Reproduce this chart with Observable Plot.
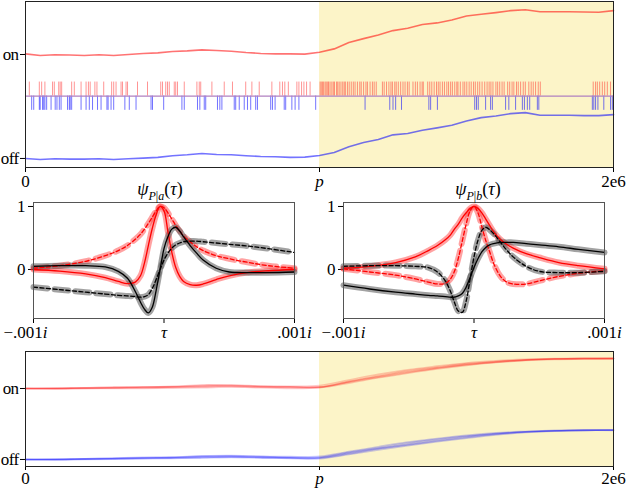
<!DOCTYPE html>
<html><head><meta charset="utf-8">
<script src="https://cdn.jsdelivr.net/npm/d3@7"></script>
<script src="https://cdn.jsdelivr.net/npm/@observablehq/plot@0.6"></script>
<style>
body{margin:0;background:#fff;}
#root{position:relative;width:630px;height:490px;overflow:hidden;font-family:"Liberation Serif","DejaVu Serif",serif;}
#root svg{position:absolute;overflow:visible;}
#root svg text{font-family:"Liberation Serif","DejaVu Serif",serif !important;font-size:17px !important;}
.ttl{position:absolute;width:200px;text-align:center;font-size:18px;font-family:"Liberation Serif","DejaVu Serif",serif !important;line-height:20px;}
.ttl sub{font-size:12px;line-height:0;}
</style></head><body><div id="root"></div>
<script>
// ---------- data (time axis in units of 1e6) ----------
const timeTickValues = [0, 1, 2];
const timeTickLabels = ["0", "p", "2e6"];
const stateTickValues = [0, 1];
const stateTickLabels = ["off", "on"];
const shadeStart = 1, shadeEnd = 2;

const topX = [0,0.05,0.1,0.15,0.2,0.25,0.3,0.35,0.4,0.45,0.5,0.55,0.6,0.65,0.7,0.75,0.8,0.85,0.9,0.95,1,1.05,1.1,1.15,1.2,1.25,1.3,1.35,1.4,1.45,1.5,1.55,1.6,1.65,1.7,1.75,1.8,1.85,1.9,1.95,2];
const topRed = [1.006,0.990,0.997,0.995,0.990,0.997,0.990,1.000,1.010,1.016,1.029,1.035,1.045,1.038,1.032,1.019,1.010,1.006,1.006,1.004,1.022,1.054,1.115,1.153,1.188,1.230,1.252,1.288,1.304,1.332,1.371,1.387,1.403,1.422,1.431,1.412,1.412,1.412,1.409,1.406,1.422];
const topBlue = [0,-0.010,-0.003,-0.006,-0.006,-0.003,-0.010,-0.003,0.003,0.010,0.026,0.035,0.048,0.038,0.035,0.026,0.019,0.016,0.010,0.013,0.029,0.058,0.112,0.153,0.182,0.227,0.240,0.272,0.294,0.319,0.361,0.393,0.409,0.431,0.441,0.415,0.415,0.415,0.412,0.412,0.422];

const redSpikes = [0.013,0.047,0.055,0.066,0.092,0.098,0.113,0.118,0.123,0.157,0.166,0.189,0.206,0.214,0.220,0.236,0.243,0.266,0.293,0.300,0.308,0.325,0.330,0.342,0.347,0.381,0.415,0.460,0.466,0.477,0.483,0.489,0.506,0.511,0.517,0.540,0.583,0.591,0.596,0.634,0.676,0.704,0.749,0.770,0.795,0.838,0.865,0.874,0.882,0.894,0.923,0.930,0.939,0.947,0.956,0.968,
 1.002,1.006,1.010,1.014,1.019,1.023,1.028,1.031,1.036,1.042,1.047,1.051,1.058,1.062,1.067,1.073,1.079,1.084,1.088,1.095,1.101,1.108,1.115,1.121,1.129,1.137,1.142,1.150,1.158,1.163,1.172,1.180,1.186,1.193,1.214,1.220,1.228,1.236,1.243,1.248,1.256,1.261,1.268,1.276,1.284,1.291,1.299,1.305,1.318,1.326,1.333,1.342,1.349,1.353,1.368,1.375,1.382,1.390,1.398,1.404,1.410,1.418,1.425,1.433,1.439,1.446,1.452,1.460,1.467,1.471,1.479,1.488,1.494,1.501,1.509,1.516,1.524,1.530,1.538,1.545,1.553,1.562,1.570,1.577,1.583,1.590,1.600,1.606,1.613,1.621,1.628,1.640,1.647,1.655,1.661,1.670,1.676,1.684,1.693,1.700,1.712,1.720,1.727,1.735,1.744,1.751,
 1.931,1.939,1.945,1.953,1.962,1.970,1.979,1.990];
const blueSpikes = [0.021,0.028,0.047,0.050,0.058,0.062,0.066,0.072,0.087,0.101,0.107,0.115,0.121,0.143,0.149,0.152,0.157,0.189,0.206,0.217,0.228,0.245,0.257,0.277,0.281,0.291,0.300,0.338,0.353,0.376,0.427,0.432,0.470,0.532,0.540,0.585,0.593,0.608,0.613,0.653,0.661,0.668,0.710,0.715,0.727,0.744,0.755,0.766,0.783,0.789,0.834,0.840,0.849,0.880,0.885,0.906,0.917,0.930,0.987,
 1.155,1.239,1.250,1.259,1.279,1.372,1.378,1.401,1.528,1.534,1.540,1.565,1.582,1.588,1.633,1.644,1.667,1.690,1.697,1.707,1.715,1.741,1.746,1.928,1.933,1.939,1.947,1.967,1.990,1.996];

// ---------- middle panels: tau axis ----------
const tauTickValues = [-1, 0, 1];
const tauTickLabels = ["\u2212.001i", "\u03c4", ".001i"];
const psiTickValues = [0, 1];
const psiTickLabels = ["0", "1"];
const tau = [-1,-0.8,-0.6,-0.45,-0.35,-0.28,-0.22,-0.18,-0.15,-0.12,-0.09,-0.06,-0.03,0,0.03,0.06,0.09,0.12,0.15,0.2,0.25,0.3,0.4,0.5,0.65,0.8,1];
// panel a
const aRedSolid  = [0.0,-0.025,-0.07,-0.13,-0.19,-0.225,-0.2,-0.1,0.1,0.38,0.65,0.87,1.0,0.93,0.6,0.27,0.03,-0.11,-0.19,-0.24,-0.25,-0.23,-0.16,-0.1,-0.045,-0.02,0.0];
const aRedDash   = [0.02,0.06,0.13,0.22,0.3,0.38,0.48,0.56,0.64,0.73,0.83,0.93,1.0,0.98,0.9,0.8,0.7,0.61,0.53,0.44,0.36,0.3,0.22,0.17,0.11,0.06,0.02];
const aBlackSolid= [0.05,0.06,0.06,0.04,-0.03,-0.14,-0.35,-0.52,-0.63,-0.69,-0.6,-0.33,0.0,0.33,0.52,0.64,0.67,0.61,0.52,0.38,0.26,0.15,0.02,-0.04,-0.05,-0.05,-0.04];
const aBlackDash = [-0.28,-0.32,-0.36,-0.39,-0.41,-0.42,-0.43,-0.44,-0.43,-0.4,-0.3,-0.16,0.0,0.15,0.26,0.34,0.39,0.42,0.44,0.45,0.45,0.44,0.42,0.4,0.37,0.33,0.27];
// panel b
const bRedSolid  = [0.02,0.05,0.11,0.2,0.3,0.38,0.47,0.55,0.64,0.72,0.82,0.9,0.97,1.0,0.97,0.9,0.8,0.7,0.6,0.48,0.4,0.34,0.25,0.19,0.11,0.06,0.01];
const bRedDash   = [0.01,-0.04,-0.09,-0.15,-0.2,-0.23,-0.22,-0.15,-0.03,0.18,0.45,0.72,0.93,1.0,0.9,0.68,0.46,0.28,0.1,-0.1,-0.2,-0.23,-0.23,-0.18,-0.11,-0.06,-0.02];
const bBlackSolid= [-0.25,-0.31,-0.36,-0.39,-0.41,-0.42,-0.43,-0.44,-0.44,-0.42,-0.38,-0.28,-0.13,0.03,0.17,0.28,0.35,0.39,0.41,0.43,0.43,0.43,0.41,0.39,0.36,0.32,0.27];
const bBlackDash = [0.05,0.06,0.06,0.05,0.03,-0.04,-0.18,-0.35,-0.52,-0.66,-0.68,-0.5,-0.15,0.2,0.46,0.62,0.67,0.63,0.57,0.44,0.31,0.2,0.05,-0.03,-0.05,-0.05,-0.03];

// ---------- bottom panel: repeated traces ----------
const botX = [0,0.1,0.2,0.3,0.4,0.5,0.6,0.7,0.8,0.9,1,1.1,1.2,1.3,1.4,1.5,1.6,1.7,1.8,1.9,2];
const botRed1 = [1.00,1.00,1.005,1.01,1.01,1.02,1.03,1.03,1.02,1.02,1.02,1.10,1.17,1.235,1.29,1.34,1.375,1.40,1.415,1.42,1.42];
const botRed2 = [1.00,1.005,1.01,1.02,1.02,1.03,1.05,1.045,1.03,1.03,1.04,1.12,1.20,1.265,1.315,1.36,1.39,1.41,1.42,1.425,1.425];
const botRed3 = [1.00,0.995,1.00,1.00,1.00,1.005,1.01,1.02,1.01,1.00,1.01,1.075,1.15,1.215,1.275,1.325,1.365,1.395,1.41,1.415,1.42];
const botRed4 = [1.00,1.00,1.01,1.015,1.025,1.025,1.04,1.05,1.035,1.025,1.02,1.09,1.16,1.225,1.285,1.335,1.37,1.40,1.415,1.42,1.42];
const botRed5 = [1.00,1.00,1.00,1.005,1.015,1.02,1.025,1.035,1.025,1.015,1.015,1.095,1.18,1.25,1.30,1.35,1.38,1.405,1.418,1.422,1.423];
const botBlue1 = [0.00,0.00,0.005,0.01,0.02,0.025,0.035,0.04,0.03,0.025,0.025,0.09,0.155,0.215,0.27,0.32,0.36,0.39,0.405,0.41,0.415];
const botBlue2 = [0.00,0.005,0.01,0.02,0.03,0.035,0.05,0.055,0.045,0.04,0.045,0.11,0.18,0.245,0.295,0.34,0.375,0.395,0.41,0.415,0.415];
const botBlue3 = [0.00,-0.005,0.00,0.005,0.01,0.015,0.02,0.03,0.02,0.015,0.01,0.07,0.135,0.195,0.25,0.30,0.345,0.38,0.40,0.41,0.41];
const botBlue4 = [0.00,0.00,0.01,0.015,0.025,0.03,0.045,0.05,0.04,0.03,0.03,0.10,0.165,0.23,0.285,0.33,0.365,0.39,0.405,0.412,0.415];
const botBlue5 = [0.00,0.00,0.005,0.01,0.015,0.02,0.03,0.035,0.03,0.02,0.02,0.08,0.15,0.205,0.26,0.31,0.355,0.385,0.402,0.41,0.412];

// ---------- helpers ----------
const root = document.getElementById("root");
const FONT = {fontFamily: "'Liberation Serif', 'DejaVu Serif', serif", fontSize: "17px", background: "transparent", overflow: "visible"};
const YELLOW = "#fcf4c8";
const lab = (vals, labels) => d => labels[vals.indexOf(d)];
function place(svg, left, top, shiftNeg) { svg.style.left = left + "px"; svg.style.top = top + "px"; root.appendChild(svg); fixText(svg, shiftNeg); }
function fixText(svg, shiftNeg) {
  svg.querySelectorAll("text").forEach(t => {
    const s = t.textContent;
    if (s === "on" || s === "off") t.setAttribute("letter-spacing", "-0.6");
    if (s === "p" || s === "\u03c4") t.setAttribute("font-style", "italic");
    else if (/i$/.test(s) && s.length > 1) {
      if (shiftNeg && s.startsWith("\u2212")) t.setAttribute("dx", "-8");
      t.textContent = s.slice(0, -1);
      const ts = document.createElementNS("http://www.w3.org/2000/svg", "tspan");
      ts.setAttribute("font-style", "italic"); ts.textContent = "i"; t.appendChild(ts);
    }
  });
}
const rows = (xs, ys) => xs.map((x, i) => ({x, y: ys[i]}));
const timeX = {domain: [0, 2], ticks: timeTickValues, tickFormat: lab(timeTickValues, timeTickLabels), label: null, tickSize: 5, tickPadding: 2};
const stateY = dom => ({domain: dom, ticks: stateTickValues, tickFormat: lab(stateTickValues, stateTickLabels), label: null, tickSize: 5, tickPadding: 2});

// ---------- top panel ----------
const topDom = [-0.087, 1.51];
const topPlot = Plot.plot({
  width: 630, height: 195, marginLeft: 25, marginRight: 17, marginTop: 1, marginBottom: 28,
  style: FONT, x: timeX, y: stateY(topDom),
  marks: [
    Plot.rect([{a: shadeStart, b: shadeEnd}], {x1: "a", x2: "b", y1: topDom[0], y2: topDom[1], fill: YELLOW}),
    Plot.ruleX(redSpikes, {x: d => d, y1: 0.6, y2: 0.735, stroke: "#ff0000", strokeOpacity: 0.42, strokeWidth: 1}),
    Plot.ruleX(blueSpikes, {x: d => d, y1: 0.6, y2: 0.463, stroke: "#0000ff", strokeOpacity: 0.55, strokeWidth: 1}),
    Plot.ruleY([0.6], {stroke: "#b080c0", strokeWidth: 1.2}),
    Plot.line(rows(topX, topRed), {x: "x", y: "y", stroke: "#ff0000", strokeOpacity: 0.55, strokeWidth: 1.6}),
    Plot.line(rows(topX, topBlue), {x: "x", y: "y", stroke: "#0000ff", strokeOpacity: 0.55, strokeWidth: 1.6}),
    Plot.frame({stroke: "#222"})
  ]
});
place(topPlot, 0, 0);

// ---------- middle panels ----------
const psiDom = [-0.778, 1.063];
function psiPanel(redSolid, redDash, blackSolid, blackDash) {
  const opt = {x: "x", y: "y", curve: "catmull-rom"};
  return Plot.plot({
    width: 310, height: 150, marginLeft: 33, marginRight: 16, marginTop: 7, marginBottom: 27,
    style: FONT,
    x: {domain: [-1, 1], ticks: tauTickValues, tickFormat: lab(tauTickValues, tauTickLabels), label: null, tickSize: 5, tickPadding: 2},
    y: {domain: psiDom, ticks: psiTickValues, tickFormat: lab(psiTickValues, psiTickLabels), label: null, tickSize: 5, tickPadding: 3},
    marks: [
      Plot.line(rows(tau, redSolid), {...opt, stroke: "#ff3030", strokeOpacity: 0.45, strokeWidth: 6}),
      Plot.line(rows(tau, redDash), {...opt, stroke: "#ff3030", strokeOpacity: 0.45, strokeWidth: 6, strokeDasharray: "14,7"}),
      Plot.line(rows(tau, blackSolid), {...opt, stroke: "#555", strokeOpacity: 0.55, strokeWidth: 6}),
      Plot.line(rows(tau, blackDash), {...opt, stroke: "#555", strokeOpacity: 0.55, strokeWidth: 6, strokeDasharray: "14,7"}),
      Plot.line(rows(tau, redSolid), {...opt, stroke: "#f00", strokeWidth: 1.3}),
      Plot.line(rows(tau, redDash), {...opt, stroke: "#f00", strokeWidth: 1.3, strokeDasharray: "4,2.5"}),
      Plot.line(rows(tau, blackSolid), {...opt, stroke: "#000", strokeWidth: 1.3}),
      Plot.line(rows(tau, blackDash), {...opt, stroke: "#000", strokeWidth: 1.3, strokeDasharray: "4,2.5"}),
      Plot.frame({stroke: "#555"})
    ]
  });
}
place(psiPanel(aRedSolid, aRedDash, aBlackSolid, aBlackDash), 0, 195, true);
place(psiPanel(bRedSolid, bRedDash, bBlackSolid, bBlackDash), 310, 195, false);

function title(html, cx, top) {
  const d = document.createElement("div"); d.className = "ttl"; d.innerHTML = html;
  d.style.left = (cx - 100) + "px"; d.style.top = top + "px"; root.appendChild(d);
}
title('<i>\u03c8</i><sub><i>P</i>|<i>a</i></sub>(<i>\u03c4</i>)', 160, 179);
title('<i>\u03c8</i><sub><i>P</i>|<i>b</i></sub>(<i>\u03c4</i>)', 478, 179);

// ---------- bottom panel ----------
const botDom = [-0.099, 1.521];
const redTraces = [botRed1, botRed2, botRed3, botRed4, botRed5];
const blueTraces = [botBlue1, botBlue2, botBlue3, botBlue4, botBlue5];
const botPlot = Plot.plot({
  width: 630, height: 150, marginLeft: 25, marginRight: 17, marginTop: 11, marginBottom: 24,
  style: FONT,
  x: {...timeX, tickSize: 4, tickPadding: 1},
  y: stateY(botDom),
  marks: [
    Plot.rect([{a: shadeStart, b: shadeEnd}], {x1: "a", x2: "b", y1: botDom[0], y2: botDom[1], fill: YELLOW}),
    ...redTraces.map(t => Plot.line(rows(botX, t), {x: "x", y: "y", curve: "catmull-rom", stroke: "#ff0000", strokeOpacity: 0.2, strokeWidth: 1.6})),
    ...blueTraces.map(t => Plot.line(rows(botX, t), {x: "x", y: "y", curve: "catmull-rom", stroke: "#0000ff", strokeOpacity: 0.2, strokeWidth: 1.6})),
    Plot.frame({stroke: "#222"})
  ]
});
place(botPlot, 0, 340);
</script></body></html>
